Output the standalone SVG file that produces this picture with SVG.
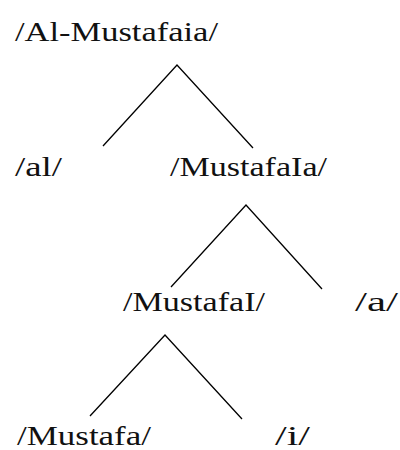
<svg xmlns="http://www.w3.org/2000/svg" width="400" height="450" viewBox="0 0 400 450">
  <style>
    .lbl { font-family: "Liberation Serif", "DejaVu Serif", serif; font-size: 27px; fill: #111; }
    .edge { stroke: #000; stroke-width: 1.3; fill: none; stroke-linecap: butt; }
  </style>
  <rect width="400" height="450" fill="#fff"/>
  <g id="edges">
    <polyline class="edge" points="103,146 177,65 253,148"/>
    <polyline class="edge" points="171,287 246,205 322,289"/>
    <polyline class="edge" points="90,416 165,335 242,419"/>
  </g>
  <g id="n-root"><text class="lbl" x="15" y="41" textLength="203" lengthAdjust="spacingAndGlyphs">/Al-Mustafaia/</text></g>
  <g id="n-al"><text class="lbl" x="15" y="176" textLength="47" lengthAdjust="spacingAndGlyphs">/al/</text></g>
  <g id="n-mustafaIa"><text class="lbl" x="170" y="176" textLength="157" lengthAdjust="spacingAndGlyphs">/MustafaIa/</text></g>
  <g id="n-mustafaI"><text class="lbl" x="123" y="311" textLength="142" lengthAdjust="spacingAndGlyphs">/MustafaI/</text></g>
  <g id="n-a"><text class="lbl" x="355" y="311" textLength="43" lengthAdjust="spacingAndGlyphs">/a/</text></g>
  <g id="n-mustafa"><text class="lbl" x="17" y="445" textLength="134" lengthAdjust="spacingAndGlyphs">/Mustafa/</text></g>
  <g id="n-i"><text class="lbl" x="275" y="445" textLength="35" lengthAdjust="spacingAndGlyphs">/i/</text></g>
</svg>
